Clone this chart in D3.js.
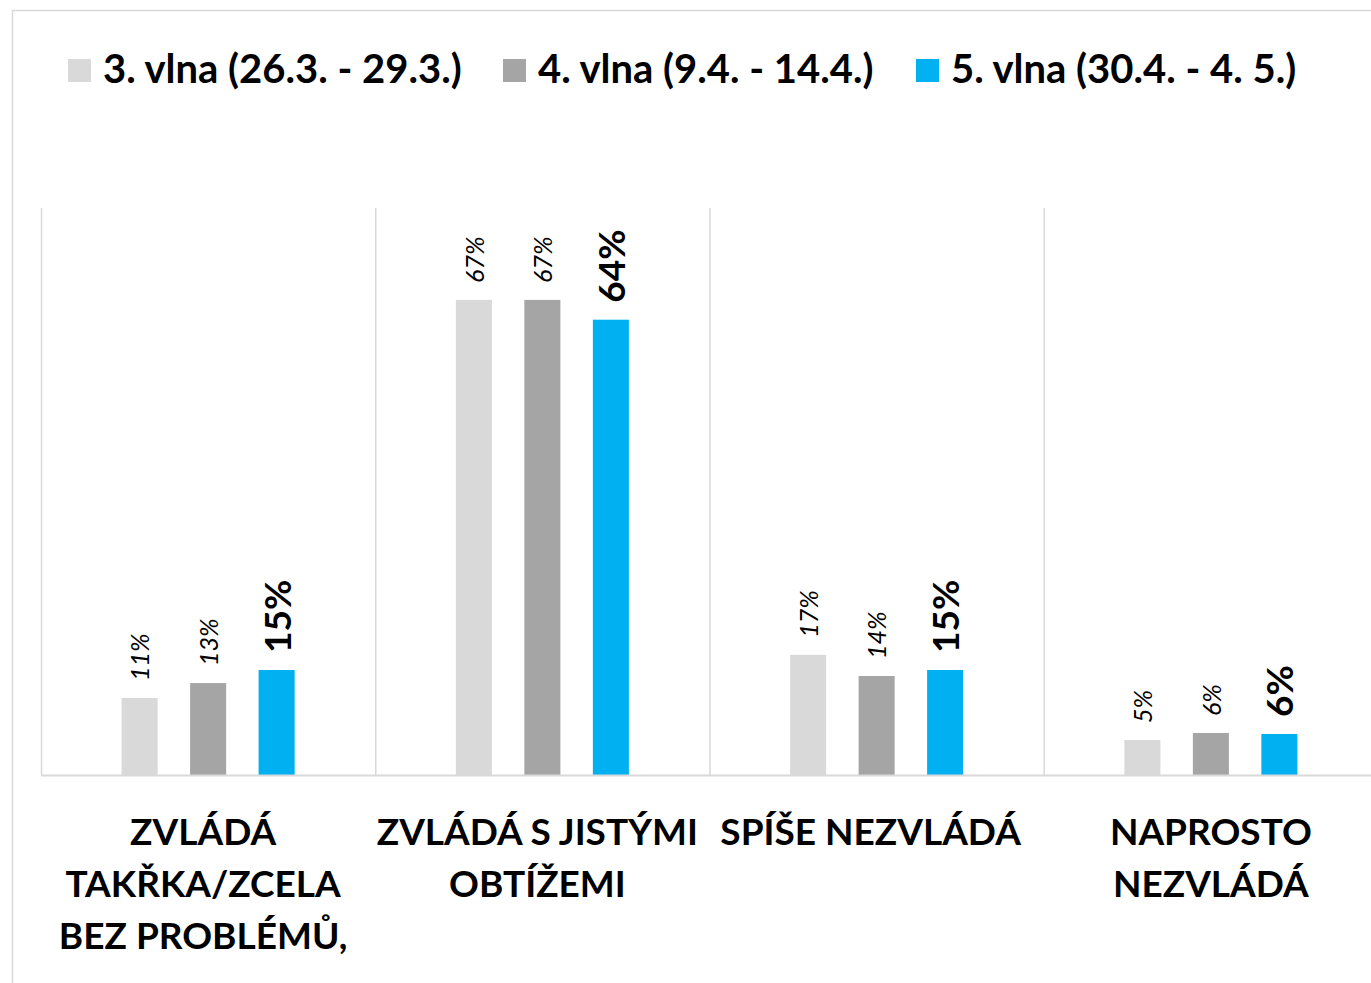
<!DOCTYPE html>
<html>
<head>
<meta charset="utf-8">
<script src="https://cdn.jsdelivr.net/npm/d3@7"></script>
<style>
  body { margin: 0; background: #fff; }
  svg { display: block; font-family: Lato, "Open Sans", sans-serif; }
</style>
</head>
<body>
<div id="chart"></div>
<script>
// categories (each split into lines)
const categories = [
  ["ZVLÁDÁ", "TAKŘKA/ZCELA", "BEZ PROBLÉMŮ,"],
  ["ZVLÁDÁ S JISTÝMI", "OBTÍŽEMI"],
  ["SPÍŠE NEZVLÁDÁ"],
  ["NAPROSTO", "NEZVLÁDÁ"]
];
const seriesNames = ["3. vlna (26.3. - 29.3.)", "4. vlna (9.4. - 14.4.)", "5. vlna (30.4. - 4. 5.)"];
const wave3 = [10.9, 67.2, 17.0, 4.95];
const wave4 = [13.0, 67.2, 14.0, 5.94];
const wave5 = [14.85, 64.4, 14.85, 5.8];
const colors = ["#d9d9d9", "#a5a5a5", "#00b0f0"];

const W = 1371, H = 983;
const margin = { left: 41, right: -7, top: 68, bottom: 208 };
const svg = d3.select("#chart").append("svg").attr("width", W).attr("height", H);

// outer frame
svg.append("rect").attr("x", 12.5).attr("y", 10.5).attr("width", W + 10).attr("height", H + 10)
  .attr("fill", "none").attr("stroke", "#d9d9d9").attr("stroke-width", 1.5);

const x0 = d3.scaleBand().domain(d3.range(categories.length))
  .range([margin.left, W - margin.right]);
const mid = x0.bandwidth() / 2, step = 68.5;
const x1 = d3.scaleBand().domain(d3.range(3))
  .range([mid - 1.5 * step, mid + 1.5 * step])
  .paddingInner(0.474).paddingOuter(0.237);
const y = d3.scaleLinear().domain([0, 100]).range([H - margin.bottom, margin.top]);
const baseY = y(0);

// separators
svg.append("g").selectAll("line").data(d3.range(categories.length)).join("line")
  .attr("x1", d => x0(d) + 0.5).attr("x2", d => x0(d) + 0.5)
  .attr("y1", 208).attr("y2", baseY)
  .attr("stroke", "#d9d9d9").attr("stroke-width", 1.5);

const data = [wave3, wave4, wave5];
const groups = svg.append("g").selectAll("g").data(categories.map((c, i) => i)).join("g")
  .attr("transform", i => `translate(${x0(i)},0)`);

groups.selectAll("rect").data(i => data.map((s, k) => ({ k, v: s[i] }))).join("rect")
  .attr("x", d => x1(d.k)).attr("width", x1.bandwidth())
  .attr("y", d => y(d.v)).attr("height", d => baseY - y(d.v))
  .attr("fill", d => colors[d.k]);

groups.selectAll("text.val").data(i => data.map((s, k) => ({ k, v: s[i] }))).join("text")
  .attr("class", "val")
  .attr("transform", d => `translate(${x1(d.k) + x1.bandwidth() / 2 + 1},${y(d.v) - 17}) rotate(-90)`)
  .attr("dy", "0.35em")
  .style("font-size", d => d.k === 2 ? "37px" : "25px")
  .style("font-weight", d => d.k === 2 ? "bold" : "normal")
  .style("font-style", d => d.k === 2 ? "normal" : "italic")
  .attr("fill", "#000")
  .text(d => Math.round(d.v) + "%");

// baseline
svg.append("line").attr("x1", margin.left).attr("x2", W).attr("y1", baseY + 0.5).attr("y2", baseY + 0.5)
  .attr("stroke", "#d9d9d9").attr("stroke-width", 2);

// category labels (small nudge per label, as in the original)
const nudge = [-5, -5, -6, 0];
const catLabels = svg.append("g").selectAll("text").data(categories).join("text")
  .attr("x", (d, i) => x0(i) + x0.bandwidth() / 2 + nudge[i])
  .attr("text-anchor", "middle")
  .style("font-size", "37px").style("font-weight", "bold");
catLabels.selectAll("tspan").data(d => d).join("tspan")
  .attr("x", function () { return this.parentNode.getAttribute("x"); })
  .attr("y", (d, j) => 845 + j * 52)
  .text(d => d);

// legend
const legendX = [68, 503, 916];
const legend = svg.append("g").selectAll("g").data(seriesNames).join("g")
  .attr("transform", (d, i) => `translate(${legendX[i]},59)`);
legend.append("rect").attr("width", 23).attr("height", 23).attr("fill", (d, i) => colors[i]);
legend.append("text").attr("x", 35).attr("y", 24)
  .style("font-size", "40px").style("font-weight", "bold").text(d => d);
</script>
</body>
</html>
